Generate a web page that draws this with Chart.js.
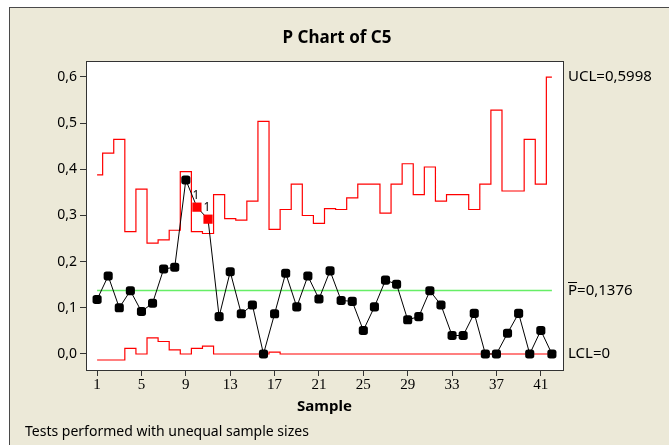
<!DOCTYPE html>
<html>
<head>
<meta charset="utf-8">
<title>P Chart of C5</title>
<script src="https://cdn.jsdelivr.net/npm/chart.js@4.4.0/dist/chart.umd.min.js"></script>
<style>
  html, body { margin: 0; padding: 0; background: #fff; }
  #wrap { width: 669px; height: 445px; }
</style>
</head>
<body>
<div id="wrap"><canvas id="pChart" width="669" height="445"></canvas></div>
<script>
// P chart values
const samples = [1, 2, 3, 4, 5, 6, 7, 8, 9, 10, 11, 12, 13, 14, 15, 16, 17, 18, 19, 20, 21,
                 22, 23, 24, 25, 26, 27, 28, 29, 30, 31, 32, 33, 34, 35, 36, 37, 38, 39, 40, 41, 42];
const proportions = [0.118, 0.169, 0.100, 0.137, 0.092, 0.110, 0.184, 0.188, 0.377, 0.318, 0.292,
                     0.081, 0.178, 0.087, 0.106, 0.000, 0.087, 0.175, 0.102, 0.169, 0.119, 0.180,
                     0.116, 0.114, 0.051, 0.102, 0.160, 0.151, 0.074, 0.081, 0.137, 0.106, 0.040,
                     0.040, 0.088, 0.000, 0.000, 0.045, 0.088, 0.000, 0.051, 0.000];
const uclValues = [0.388, 0.435, 0.465, 0.265, 0.357, 0.240, 0.247, 0.268, 0.395, 0.265, 0.261,
                   0.345, 0.293, 0.290, 0.331, 0.504, 0.270, 0.313, 0.368, 0.300, 0.283, 0.315,
                   0.313, 0.338, 0.368, 0.368, 0.305, 0.368, 0.412, 0.345, 0.405, 0.331, 0.345,
                   0.345, 0.313, 0.368, 0.528, 0.353, 0.353, 0.465, 0.368, 0.5998];
const lclValues = [-0.013, -0.013, -0.013, 0.012, 0.000, 0.035, 0.027, 0.009, 0.000, 0.012, 0.017,
                   0.000, 0.000, 0.000, 0.000, 0.000, 0.004, 0.000, 0.000, 0.000, 0.000, 0.000,
                   0.000, 0.000, 0.000, 0.000, 0.000, 0.000, 0.000, 0.000, 0.000, 0.000, 0.000,
                   0.000, 0.000, 0.000, 0.000, 0.000, 0.000, 0.000, 0.000, 0.000];
const centerValue = 0.1376;
const failedTest1 = [10, 11];   // samples flagged by test 1
const xTickValues = [1, 5, 9, 13, 17, 21, 25, 29, 33, 37, 41];
const yTickValues = [0, 0.1, 0.2, 0.3, 0.4, 0.5, 0.6];

const SANS = '"Noto Sans", "DejaVu Sans", sans-serif';

function pairs(ys) {
    return samples.map((s, i) => ({ x: s, y: ys[i] }));
}

const flagged = samples.map(s => failedTest1.includes(s));

// Minitab-style frame, titles and limit labels
const minitabDecor = {
    id: 'minitabDecor',
    beforeDraw(chart) {
        const ctx = chart.ctx;
        const a = chart.chartArea;
        ctx.save();
        ctx.fillStyle = '#ffffff';
        ctx.fillRect(0, 0, chart.width, chart.height);
        ctx.fillStyle = '#ECE9D8';
        ctx.fillRect(9, 7, chart.width, chart.height);
        ctx.strokeStyle = '#4a4a4a';
        ctx.lineWidth = 1;
        ctx.strokeRect(9.5, 7.5, chart.width + 20, chart.height + 20);
        ctx.fillStyle = '#ffffff';
        ctx.fillRect(a.left, a.top, a.right - a.left, a.bottom - a.top);
        ctx.restore();
    },
    afterDraw(chart) {
        const ctx = chart.ctx;
        const a = chart.chartArea;
        const xs = chart.scales.x;
        const ys = chart.scales.y;
        ctx.save();

        // plot frame
        ctx.strokeStyle = '#333333';
        ctx.lineWidth = 1;
        ctx.strokeRect(Math.round(a.left) + 0.5, Math.round(a.top) + 0.5,
                       Math.round(a.right - a.left), Math.round(a.bottom - a.top));

        ctx.fillStyle = '#000000';
        ctx.textBaseline = 'middle';

        // title
        ctx.textAlign = 'center';
        ctx.font = 'bold 17px ' + SANS;
        ctx.fillText('P Chart of C5', 337, 38);

        // axis title
        ctx.font = 'bold 15px ' + SANS;
        ctx.fillText('Sample', (a.left + a.right) / 2, 407);

        // test-1 flags
        ctx.font = '12px ' + SANS;
        failedTest1.forEach(s => {
            const i = samples.indexOf(s);
            ctx.fillText('1', xs.getPixelForValue(s) - 1, ys.getPixelForValue(proportions[i]) - 12);
        });

        // footnote
        ctx.textAlign = 'left';
        ctx.font = '14px ' + SANS;
        ctx.fillText('Tests performed with unequal sample sizes', 25, 432);

        // limit labels
        const lx = a.right + 5;
        ctx.font = '15px ' + SANS;
        ctx.fillText('UCL=' + uclValues[uclValues.length - 1].toFixed(4).replace('.', ','),
                     lx, ys.getPixelForValue(uclValues[uclValues.length - 1]));
        const cy = ys.getPixelForValue(centerValue);
        const pw = ctx.measureText('P').width;
        ctx.fillText('P', lx, cy);
        ctx.fillText('=' + centerValue.toFixed(4).replace('.', ','), lx + pw, cy);
        ctx.beginPath();
        ctx.moveTo(lx, Math.round(cy - 8) + 0.5);
        ctx.lineTo(lx + pw, Math.round(cy - 8) + 0.5);
        ctx.strokeStyle = '#000000';
        ctx.stroke();
        ctx.fillText('LCL=0', lx, ys.getPixelForValue(0));

        ctx.restore();
    }
};

new Chart(document.getElementById('pChart'), {
    type: 'line',
    data: {
        datasets: [{
            label: 'C5',
            data: pairs(proportions),
            borderColor: '#000000',
            borderWidth: 1,
            pointStyle: flagged.map(f => f ? 'rect' : 'rectRounded'),
            pointRadius: flagged.map(f => f ? 6.5 : 5.3),
            pointBackgroundColor: flagged.map(f => f ? '#FF0000' : '#000000'),
            pointBorderColor: flagged.map(f => f ? '#FF0000' : '#000000'),
            pointBorderWidth: 0
        }, {
            label: 'UCL',
            data: pairs(uclValues),
            borderColor: '#FF0000',
            borderWidth: 1.2,
            stepped: 'middle',
            pointRadius: 0
        }, {
            label: 'LCL',
            data: pairs(lclValues),
            borderColor: '#FF0000',
            borderWidth: 1.2,
            stepped: 'middle',
            pointRadius: 0
        }, {
            label: 'P-bar',
            data: [{ x: samples[0], y: centerValue }, { x: samples[samples.length - 1], y: centerValue }],
            borderColor: '#66EE66',
            borderWidth: 1.5,
            pointRadius: 0
        }]
    },
    options: {
        responsive: false,
        animation: false,
        devicePixelRatio: 1,
        layout: { padding: { left: 0, top: 61, right: 106, bottom: 0 } },
        plugins: {
            legend: { display: false },
            tooltip: { enabled: false }
        },
        scales: {
            x: {
                type: 'linear',
                min: 0,
                max: 43,
                afterBuildTicks: scale => { scale.ticks = xTickValues.map(v => ({ value: v })); },
                afterFit: scale => { scale.height = 75; },
                border: { display: false },
                grid: { drawOnChartArea: false, drawTicks: true, tickLength: 6, color: '#333333' },
                ticks: {
                    color: '#000000',
                    padding: 0,
                    maxRotation: 0,
                    font: { family: '"Liberation Serif", "DejaVu Serif", serif', size: 15 }
                }
            },
            y: {
                min: -0.0347,
                max: 0.6346,
                afterBuildTicks: scale => { scale.ticks = yTickValues.map(v => ({ value: v })); },
                afterFit: scale => { scale.width = 86; },
                border: { display: false },
                grid: { drawOnChartArea: false, drawTicks: true, tickLength: 6, color: '#333333' },
                ticks: {
                    color: '#000000',
                    padding: 3,
                    font: { family: SANS, size: 14 },
                    callback: v => v.toFixed(1).replace('.', ',')
                }
            }
        }
    },
    plugins: [minitabDecor]
});
</script>
</body>
</html>
